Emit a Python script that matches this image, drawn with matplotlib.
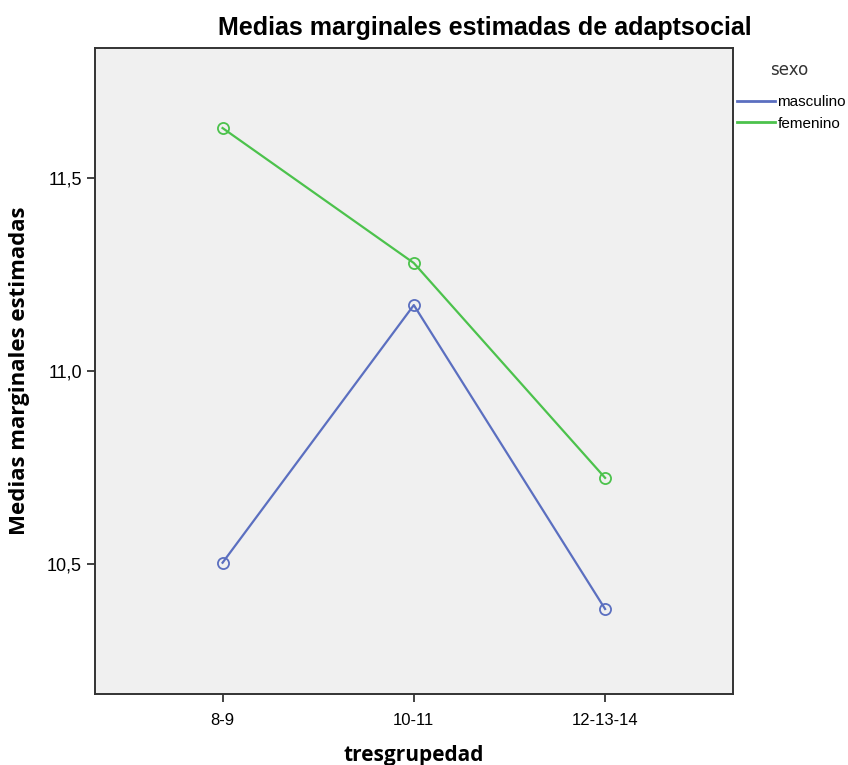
import matplotlib
matplotlib.use("Agg")
from matplotlib import pyplot as plt

grupos = ["8-9", "10-11", "12-13-14"]
masculino = [10.503, 11.171, 10.383]
femenino = [11.630, 11.280, 10.723]
series = ["masculino", "femenino"]
yticks = [10.5, 11.0, 11.5]
ytick_labels = ["10,5", "11,0", "11,5"]

plt.rcParams["font.family"] = ["Liberation Sans", "DejaVu Sans"]

fig = plt.figure(figsize=(8.48, 7.65), dpi=100)
ax = fig.add_axes([0.112, 0.093, 0.752, 0.844])
ax.set_facecolor("#f0f0f0")

x = list(range(len(grupos)))
ax.plot(x, masculino, color="#5b6fc0", lw=1.6, marker="o", ms=8,
        mfc="none", mec="#5b6fc0", mew=1.3, label=series[0])
ax.plot(x, femenino, color="#4cc24c", lw=1.6, marker="o", ms=8,
        mfc="none", mec="#4cc24c", mew=1.3, label=series[1])

ax.set_xlim(-0.667, 2.667)
ax.set_ylim(10.163, 11.837)
ax.set_xticks(x)
ax.set_xticklabels(grupos, fontsize=12)
ax.set_yticks(yticks)
ax.set_yticklabels(ytick_labels, fontsize=13)
ax.tick_params(axis="both", direction="out", length=6, width=1.2, color="#222222")
ax.tick_params(axis="x", pad=8)
for s in ax.spines.values():
    s.set_color("#333333")
    s.set_linewidth(1.4)

fig.text(485 / 848, 1 - 28 / 765, "Medias marginales estimadas de adaptsocial",
         fontsize=18, fontweight="bold", ha="center", va="center")
ax.set_xlabel("tresgrupedad", fontsize=15, fontweight="bold",
              family=["Open Sans", "DejaVu Sans"], labelpad=12)
ax.set_ylabel("Medias marginales estimadas", fontsize=16, fontweight="bold",
              family=["Open Sans", "DejaVu Sans"], labelpad=12)

fig.text(770 / 848, 1 - 70 / 765, "sexo", fontsize=12,
         family=["DejaVu Sans"], color="#333333", ha="left", va="center")
leg = fig.legend(loc="upper left", bbox_to_anchor=(737 / 848, 1 - 95 / 765),
                 frameon=False, fontsize=11, handlelength=2.5,
                 handletextpad=0.15, labelspacing=0.5, borderaxespad=0.0,
                 borderpad=0.0)
for h in leg.get_lines():
    h.set_marker("")
    h.set_linewidth(2.0)

fig.savefig("out.png", dpi=100)
